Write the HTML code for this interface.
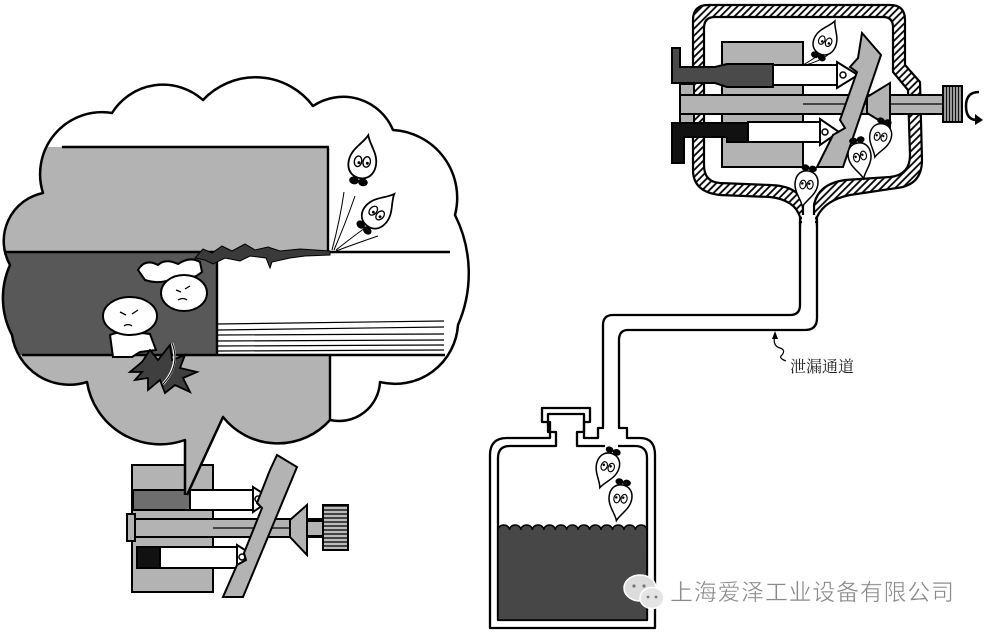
<!DOCTYPE html>
<html><head><meta charset="utf-8"><style>
html,body{margin:0;padding:0;background:#fff;}
svg{display:block;}
</style></head><body>
<svg width="987" height="633" viewBox="0 0 987 633" xmlns="http://www.w3.org/2000/svg">
<defs>
 <pattern id="hatch" width="5" height="5" patternUnits="userSpaceOnUse" patternTransform="rotate(45)">
  <rect width="5" height="5" fill="#fff"/>
  <line x1="1" y1="0" x2="1" y2="5" stroke="#000" stroke-width="1.8"/>
 </pattern>
 <pattern id="knob" width="3" height="4" patternUnits="userSpaceOnUse">
  <rect width="3" height="4" fill="#bbb"/>
  <line x1="0" y1="2" x2="3" y2="2" stroke="#111" stroke-width="1.4"/>
 </pattern>
 <pattern id="knobv" width="3" height="4" patternUnits="userSpaceOnUse">
  <rect width="3" height="4" fill="#bbb"/>
  <line x1="1.5" y1="0" x2="1.5" y2="4" stroke="#111" stroke-width="1.4"/>
 </pattern>
 <clipPath id="cc">
  <path d="M43,193 A62,62 0 0 1 112,113 A60,60 0 0 1 203,100 A72,72 0 0 1 313,106 A54,54 0 0 1 393,130 A68,68 0 0 1 455,215 A130,130 0 0 1 458,325 A63,63 0 0 1 380,382 A41,41 0 0 1 330,420 A70,70 0 0 1 223,417 L187,495 L185,495 L185,440 A74,74 0 0 1 87,382 A58,58 0 0 1 12,335 A80,80 0 0 1 10,265 A49,49 0 0 1 43,193 Z"/>
 </clipPath>
 <g id="drop">
  <path d="M0,-22 C3,-14 12,-8 12,3 C12,11 7,16 0,16 C-7,16 -12,11 -12,3 C-12,-8 -3,-14 0,-22 Z" fill="#fff" stroke="#000" stroke-width="1.6"/>
  <ellipse cx="-4" cy="2" rx="3.2" ry="4.6" fill="#fff" stroke="#000" stroke-width="1.2"/>
  <ellipse cx="3.5" cy="1" rx="3.2" ry="4.6" fill="#fff" stroke="#000" stroke-width="1.2"/>
  <circle cx="-3" cy="3" r="1.3" fill="#000"/>
  <circle cx="4.3" cy="2" r="1.3" fill="#000"/>
  <ellipse cx="-4" cy="19" rx="4.2" ry="3.4" fill="#000"/>
  <ellipse cx="4" cy="19" rx="4.2" ry="3.4" fill="#000"/>
 </g>
</defs>

<!-- ============ LEFT SMALL MACHINE ============ -->
<g stroke="#000" stroke-width="2">
 <rect x="132" y="465" width="81" height="127" fill="#b3b3b3"/>
 <rect x="133" y="490" width="57" height="20" fill="#6e6e6e"/>
 <rect x="190" y="490" width="63" height="20" fill="#fff"/>
 <polygon points="253,487 272,499 253,512" fill="#fff"/>
 <circle cx="258" cy="499" r="3" fill="#fff" stroke-width="1.5"/>
 <rect x="127" y="514" width="8" height="27" fill="#b3b3b3"/>
 <rect x="135" y="519" width="188" height="18" fill="#b3b3b3"/>
 <line x1="213" y1="528" x2="323" y2="528" stroke-width="1.2"/>
 <rect x="137" y="547" width="23" height="21" fill="#111"/>
 <rect x="160" y="547" width="77" height="21" fill="#fff"/>
 <polygon points="237,545 256,557 237,570" fill="#fff"/>
 <circle cx="242" cy="557" r="3" fill="#fff" stroke-width="1.5"/>
 <polygon points="277,455 297,467 243,597 223,597 237,565 246,560 244,553 262,508 257,503 270,470" fill="#b3b3b3"/>
 <polygon points="290,520 307,505 307,555 290,537" fill="#b3b3b3"/>
 <rect x="307" y="521" width="16" height="15" fill="#b3b3b3"/>
 <rect x="323" y="505" width="25" height="45" fill="url(#knob)"/>
</g>

<!-- ============ CLOUD ============ -->
<g clip-path="url(#cc)">
 <rect x="0" y="60" width="480" height="450" fill="#fff"/>
 <rect x="0" y="147" width="328" height="105" fill="#b3b3b3"/>
 <rect x="0" y="252" width="217" height="103" fill="#585858"/>
 <rect x="0" y="355" width="330" height="150" fill="#b3b3b3"/>
 <g stroke="#000" stroke-width="2.4" fill="none">
  <line x1="62" y1="147" x2="329" y2="147"/>
  <line x1="328" y1="147" x2="328" y2="252"/>
  <line x1="0" y1="252" x2="450" y2="252"/>
  <line x1="217" y1="252" x2="217" y2="356"/>
  <line x1="22" y1="355" x2="445" y2="355"/>
  <line x1="330" y1="355" x2="330" y2="425"/>
 </g>
 <g stroke="#000" stroke-width="1.2">
  <line x1="218" y1="324" x2="444" y2="321"/>
  <line x1="218" y1="330" x2="444" y2="327"/>
  <line x1="218" y1="335" x2="444" y2="334"/>
  <line x1="218" y1="341" x2="444" y2="340"/>
  <line x1="218" y1="346" x2="444" y2="345"/>
  <line x1="218" y1="351" x2="444" y2="350"/>
 </g>
 <!-- crack -->
 <path d="M195,258 L203,249 L212,253 L222,246 L232,251 L245,244 L255,250 L268,247 L280,251 L300,249 L330,251 L330,255 L305,256 L290,258 L272,262 L270,268 L266,258 L250,256 L240,261 L225,258 L213,264 L205,260 Z" fill="#3a3a3a" stroke="#000" stroke-width="1"/>
 <!-- characters -->
 <g stroke="#000" stroke-width="2" fill="#fff">
  <path d="M138,270 Q145,258 158,265 Q165,258 178,264 Q190,256 200,262 L202,272 Q190,282 175,278 Q160,285 145,280 Z"/>
  <ellipse cx="184" cy="293" rx="23" ry="18"/>
  <path d="M110,335 Q120,330 150,334 L156,350 L140,352 L132,357 L113,357 Z"/>
  <ellipse cx="130" cy="316" rx="27" ry="19"/>
 </g>
 <g stroke="#000" stroke-width="1.3" fill="none">
  <path d="M120,312 l6,3 M138,310 l-6,4 M124,326 q4,-3 8,0"/>
  <path d="M176,290 l5,2 M190,286 l-5,3 M178,300 q5,-3 9,0"/>
 </g>
 <path d="M130,372 L142,362 L150,350 L158,360 L170,345 L172,360 L185,355 L180,368 L197,372 L183,378 L190,392 L175,385 L165,393 L160,380 L148,390 L148,378 L135,380 L142,372 Z" fill="#3f3f3f" stroke="#000" stroke-width="1.8"/>
 <path d="M172,343 Q180,365 163,384" stroke="#fff" stroke-width="2.5" fill="none"/>
 <path d="M172,343 Q181,365 163,384" stroke="#000" stroke-width="1" fill="none"/>
 <!-- drops in cloud -->
 <g stroke="#000" stroke-width="1" fill="none">
  <path d="M332,250 Q340,220 344,192"/>
  <path d="M334,250 Q346,222 355,196"/>
  <path d="M336,250 Q355,235 365,228"/>
  <path d="M336,251 Q360,242 378,236"/>
 </g>
 <use href="#drop" transform="translate(363,160) rotate(12) scale(1.15)"/>
 <use href="#drop" transform="translate(378,212) rotate(42) scale(1.1)"/>
</g>
<path d="M185,495 L185,440 A74,74 0 0 1 87,382 A58,58 0 0 1 12,335 A80,80 0 0 1 10,265 A49,49 0 0 1 43,193 A62,62 0 0 1 112,113 A60,60 0 0 1 203,100 A72,72 0 0 1 313,106 A54,54 0 0 1 393,130 A68,68 0 0 1 455,215 A130,130 0 0 1 458,325 A63,63 0 0 1 380,382 A41,41 0 0 1 330,420 A70,70 0 0 1 223,417 L187,495" fill="none" stroke="#000" stroke-width="2.5" stroke-linejoin="round"/>

<!-- ============ RIGHT HOUSING ============ -->
<path d="M708,5 L890,5 Q905,5 905,20 L905,65 L920,82 L922,160 Q922,185 897,188 L850,195 Q825,200 817,217 L817,222 L800,222 L800,217 Q795,200 770,197 L720,195 Q693,192 693,170 L693,20 Q693,5 708,5 Z" fill="url(#hatch)" stroke="#000" stroke-width="2.2"/>
<path d="M715,17 L883,17 Q893,17 893,27 L893,72 L908,90 L910,155 Q910,175 890,177 L845,180 Q818,184 814,205 L814,225 L803,225 L803,205 Q800,186 770,185 L720,183 Q704,182 704,165 L704,28 Q704,17 715,17 Z" fill="#fff" stroke="#000" stroke-width="2.2"/>
<rect x="802" y="215" width="13" height="12" fill="#fff"/>
<g stroke="#000" stroke-width="2">
 <rect x="680" y="84" width="14" height="39" fill="#b3b3b3"/>
 <rect x="722" y="42" width="81" height="125" fill="#b3b3b3"/>
 <!-- upper pipe -->
 <path d="M672,48 L680,48 L680,67 L715,67 L727,64 L773,64 L773,87 L727,87 L715,83 L672,83 Z" fill="#4a4a4a"/>
 <rect x="773" y="65" width="64" height="20" fill="#fff"/>
 <polygon points="837,62 858,75 837,88" fill="#fff"/>
 <circle cx="843" cy="75" r="3" fill="#fff" stroke-width="1.5"/>
 <!-- lower pipe -->
 <path d="M672,163 L672,123 L748,123 L748,142 L727,142 L727,137 L684,137 L684,163 Z" fill="#111"/>
 <rect x="748" y="122" width="72" height="20" fill="#fff"/>
 <polygon points="820,119 839,132 820,145" fill="#fff"/>
 <circle cx="825" cy="132" r="3" fill="#fff" stroke-width="1.5"/>
 <!-- shaft -->
 <rect x="680" y="95" width="263" height="19" fill="#b3b3b3"/>
 <line x1="803" y1="104" x2="943" y2="104" stroke-width="1.3"/>
 <!-- plate -->
 <polygon points="862,33 881,55 843,167 817,167 833,135 845,128 840,120 857,72 850,67 858,58" fill="#b3b3b3"/>
 <polygon points="867,97 890,83 890,127 867,113" fill="#b3b3b3"/>
 <rect x="943" y="86" width="19" height="36" fill="url(#knobv)"/>
</g>
<path d="M979,92 Q966,92 966,106 Q966,120 977,120" fill="none" stroke="#000" stroke-width="2.5"/>
<polygon points="975,114 983,120 975,125" fill="#000"/>
<g stroke="#000" stroke-width="1" fill="none">
 <path d="M803,65 Q815,58 823,52"/><path d="M805,65 Q818,62 828,55"/>
</g>
<use href="#drop" transform="translate(826,40) rotate(25) scale(0.95)"/>
<use href="#drop" transform="translate(806,186) rotate(190) scale(0.95)"/>
<use href="#drop" transform="translate(860,158) rotate(170) scale(0.95)"/>
<use href="#drop" transform="translate(880,138) rotate(195) scale(0.9)"/>

<!-- ============ TUBE + BOTTLE ============ -->
<g fill="none" stroke="#000" stroke-width="2.3" stroke-linejoin="round">
 <path d="M800,222 L800,305 Q800,315 790,315 L613,315 Q603,315 603,325 L603,428 L598,428 L598,438 L584,438 L584,422 L590,422 L590,408 L542,408 L542,422 L550,422 L550,438 L507,438 Q490,438 490,455 L490,628 L655,628 L655,455 Q655,438 640,438 L627,438 L627,428 L619,428 L619,340 Q619,330 628,330 L805,330 Q817,330 817,318 L817,222"/>
 <path d="M605,446 L577,446 L577,432 L584,432 L584,414 L548,414 L548,432 L556,432 L556,446 L510,446 Q498,446 498,458 L498,620 L647,620 L647,458 Q647,446 635,446 L618,446"/>
</g>
<path d="M498,620 L498,530 a5.7,5 0 0 1 11.45,0 a5.7,5 0 0 1 11.45,0 a5.7,5 0 0 1 11.45,0 a5.7,5 0 0 1 11.45,0 a5.7,5 0 0 1 11.45,0 a5.7,5 0 0 1 11.45,0 a5.7,5 0 0 1 11.45,0 a5.7,5 0 0 1 11.45,0 a5.7,5 0 0 1 11.45,0 a5.7,5 0 0 1 11.45,0 a5.7,5 0 0 1 11.45,0 a5.7,5 0 0 1 11.45,0 a5.7,5 0 0 1 11.45,0 L647,620 Z" fill="#474747" stroke="#000" stroke-width="1.5"/>
<use href="#drop" transform="translate(607,468) rotate(200) scale(0.95)"/>
<use href="#drop" transform="translate(620,500) rotate(190) scale(0.95)"/>

<!-- label -->
<path d="M775,334 Q772,346 780,348 Q786,350 782,355 Q778,358 786,361" fill="none" stroke="#000" stroke-width="1.2"/>
<polygon points="775,331 772,339 778,339" fill="#000"/>
<text x="790" y="372" font-size="16" font-family="'Liberation Serif','Noto Serif CJK SC',serif" fill="#222">泄漏通道</text>

<!-- watermark -->
<ellipse cx="640" cy="588" rx="16" ry="13" fill="#dcdcdc" stroke="#fff" stroke-width="1.5"/>
<ellipse cx="652" cy="598" rx="12" ry="10.5" fill="#e4e4e4" stroke="#fff" stroke-width="1.5"/>
<circle cx="634" cy="586" r="1.6" fill="#777"/><circle cx="644" cy="586" r="1.6" fill="#777"/>
<circle cx="648" cy="597" r="1.4" fill="#777"/><circle cx="656" cy="597" r="1.4" fill="#777"/>
<text x="670" y="600" font-size="23" textLength="284" lengthAdjust="spacing" font-family="'Liberation Sans','Noto Sans CJK SC',sans-serif" fill="#8a8a8a" stroke="#fff" stroke-width="0.4">上海爱泽工业设备有限公司</text>
</svg>
</body></html>
